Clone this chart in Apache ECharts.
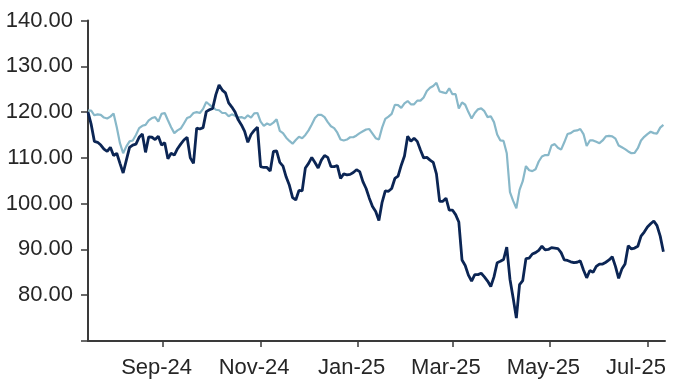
<!DOCTYPE html>
<html>
<head>
<meta charset="utf-8">
<script src="https://cdn.jsdelivr.net/npm/echarts@6/dist/echarts.min.js"></script>
<style>
html,body{margin:0;padding:0;background:#fff;}
#chart{width:689px;height:387px;}
</style>
</head>
<body>
<div id="chart"></div>
<script>
// x grid: one sample every 2 calendar days starting at startDate
const startDate = [2024, 6, 16];   // 16 Jul 2024 (month is 0-based)
const stepDays = 2;
const axisEndDate = [2025, 6, 12];

const darkValues = [
120.0,117.3,113.6,113.4,112.8,111.9,111.4,112.3,110.5,111.0,
108.8,106.7,109.5,112.3,112.8,113.0,114.5,115.2,111.2,114.6,
114.5,114.0,114.7,112.8,113.3,109.8,111.0,110.6,112.0,113.0,
113.9,114.5,110.0,108.8,116.5,116.3,116.6,120.1,120.5,120.8,
123.8,125.9,124.8,124.2,122.0,121.1,120.0,118.3,117.2,115.8,
113.4,115.1,116.0,116.7,108.1,107.9,107.9,107.1,111.4,111.5,
109.0,108.2,105.8,104.0,101.3,100.8,102.9,102.8,107.8,108.8,
110.1,109.0,107.8,109.5,110.5,110.1,108.1,108.1,108.3,105.5,
106.5,106.3,106.4,106.8,107.4,107.0,104.8,103.3,101.2,99.4,
98.3,96.3,100.3,102.8,102.7,103.3,105.5,106.0,108.4,110.4,
114.7,113.6,114.3,113.6,111.7,110.0,110.1,109.5,109.0,106.5,
100.5,100.5,101.2,98.6,98.6,97.6,96.0,87.7,86.5,84.4,
83.1,84.5,84.5,84.8,84.0,83.1,81.9,84.0,87.1,87.4,
87.8,90.5,83.5,79.4,75.0,82.3,83.2,88.0,88.1,89.0,
89.3,89.8,90.7,89.9,90.0,90.4,90.3,90.2,89.3,87.7,
87.6,87.3,87.1,87.2,87.5,85.5,83.8,85.4,85.0,86.3,
86.8,86.8,87.2,87.7,88.4,86.3,83.7,85.7,86.8,90.8,
90.1,90.3,90.7,92.9,93.8,94.9,95.6,96.2,95.2,92.9,
89.5
];

const lightValues = [
120.3,120.3,119.3,119.5,119.4,118.8,118.6,119.0,119.7,116.7,
113.2,111.0,112.5,113.6,113.8,115.0,116.5,117.0,117.2,118.2,
118.7,118.9,117.9,119.6,119.8,118.2,116.7,115.4,116.0,116.4,
117.5,118.7,119.0,119.8,120.0,119.8,120.7,122.2,121.6,121.1,
120.5,120.4,119.8,119.8,119.1,119.5,119.2,118.8,118.9,118.6,
119.3,118.8,119.7,119.8,117.9,117.0,117.5,117.2,117.7,118.4,
115.9,115.4,114.4,113.7,113.1,113.9,114.6,114.3,115.0,116.0,
117.3,118.7,119.4,119.4,118.9,117.8,116.9,116.5,115.5,114.0,
113.8,114.0,114.5,114.5,114.9,115.4,115.8,116.2,116.3,115.3,
114.3,114.0,116.6,118.5,119.0,119.6,121.6,121.5,120.9,121.9,
122.4,121.7,121.7,122.5,122.5,123.2,124.6,125.3,125.7,126.4,
124.5,124.3,124.1,125.2,123.9,123.9,120.8,122.1,121.6,120.0,
118.6,119.8,120.6,120.8,120.2,118.9,119.1,117.8,115.1,113.8,
113.7,111.0,102.5,100.6,99.0,103.0,104.9,108.2,107.3,107.1,
107.5,109.2,110.3,110.6,110.6,112.7,113.0,112.2,111.8,113.4,
115.2,115.4,115.9,116.0,116.3,115.2,112.6,113.8,113.8,113.5,
113.2,113.8,114.7,114.8,114.7,114.2,112.7,112.3,111.9,111.4,
111.0,111.1,112.1,113.8,114.6,115.2,115.7,115.4,115.3,116.6,
117.2
];

const tickDates = [[2024,8,1],[2024,10,1],[2025,0,1],[2025,2,1],[2025,4,1],[2025,6,1]];
const tickLabels = ['Sep-24','Nov-24','Jan-25','Mar-25','May-25','Jul-25'];

const yMin = 70, yMax = 140, yInterval = 10;

const DAY = 86400000;
const t0 = Date.UTC(startDate[0], startDate[1], startDate[2]);
const tEnd = Date.UTC(axisEndDate[0], axisEndDate[1], axisEndDate[2]);
const dates = darkValues.map((_, i) => t0 + i * stepDays * DAY);
const tickTs = tickDates.map(d => Date.UTC(d[0], d[1], d[2]));
const labelIdx = {};
tickTs.forEach((t, i) => { labelIdx[t] = i; });

const chart = echarts.init(document.getElementById('chart'), null, {renderer: 'canvas'});
const fontFamily = '"Liberation Sans", Arial, sans-serif';
const txt = {color: '#262626', fontSize: 22, fontFamily: fontFamily};

chart.setOption({
  animation: false,
  backgroundColor: '#ffffff',
  grid: {left: 88, right: 24, top: 20.5, bottom: 46, containLabel: false, outerBoundsMode: 'none'},
  xAxis: {
    type: 'value',
    min: t0,
    max: tEnd,
    axisLine: {show: true, onZero: false, lineStyle: {color: '#3a3a3a', width: 2}},
    axisTick: {show: true, customValues: tickTs, length: 6, lineStyle: {color: '#3a3a3a', width: 1.5}},
    axisLabel: {
      show: true,
      customValues: tickTs,
      formatter: v => {
        const i = labelIdx[v];
        if (i === undefined) return '';
        return (i === tickLabels.length - 1 ? '{e|' : '{a|') + tickLabels[i] + '}';
      },
      rich: {
        a: Object.assign({padding: [0, 13, 0, 0]}, txt),
        e: Object.assign({padding: [0, 23, 0, 0]}, txt)
      },
      color: '#262626',
      fontSize: 22,
      fontFamily: fontFamily,
      margin: 16,
      hideOverlap: false
    },
    splitLine: {show: false}
  },
  yAxis: {
    type: 'value',
    min: yMin,
    max: yMax,
    interval: yInterval,
    axisLine: {show: true, lineStyle: {color: '#3a3a3a', width: 2}},
    axisTick: {show: true, length: 7, lineStyle: {color: '#3a3a3a', width: 1.5}},
    axisLabel: {
      formatter: v => (v <= yMin ? '' : v.toFixed(2)),
      color: '#262626',
      fontSize: 22,
      fontFamily: fontFamily,
      margin: 15
    },
    splitLine: {show: false}
  },
  series: [
    {
      name: 'Light',
      type: 'line',
      data: dates.map((t, i) => [t, lightValues[i]]),
      showSymbol: false,
      symbol: 'none',
      lineStyle: {color: '#88b8c9', width: 2.2},
      z: 2
    },
    {
      name: 'Dark',
      type: 'line',
      data: dates.map((t, i) => [t, darkValues[i]]),
      showSymbol: false,
      symbol: 'none',
      lineStyle: {color: '#0b2554', width: 2.8},
      z: 3
    }
  ]
});
</script>
</body>
</html>
